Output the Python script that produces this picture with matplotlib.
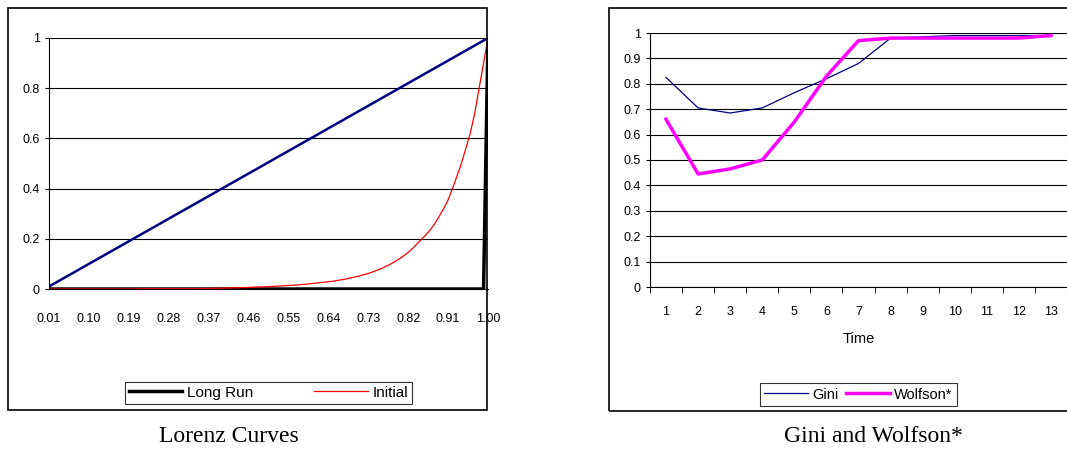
import matplotlib
matplotlib.use('Agg')
import matplotlib.pyplot as plt
from matplotlib.patches import Rectangle

W, H = 1067, 455

# Lorenz data: population share 0.01..1.00
pop = [round(0.01 * i, 2) for i in range(1, 101)]
equality = pop
long_run = [0.0] * 99 + [1.0]
initial = ([0.0] * 20 + [0.001] * 15 +
           [0.002, 0.002, 0.003, 0.003, 0.003, 0.004, 0.004, 0.005, 0.005, 0.006,
            0.006, 0.007, 0.008, 0.008, 0.009, 0.010, 0.011, 0.012, 0.013, 0.014,
            0.015, 0.016, 0.018, 0.019, 0.021, 0.023, 0.025, 0.027, 0.029, 0.031,
            0.034, 0.037, 0.040, 0.044, 0.048, 0.052, 0.057, 0.062, 0.068, 0.075,
            0.082, 0.090, 0.099, 0.109, 0.120, 0.132, 0.146, 0.162, 0.180, 0.198] +
           [0.216, 0.236, 0.260, 0.290, 0.320, 0.355, 0.400, 0.450,
            0.500, 0.560, 0.620, 0.700, 0.800, 0.900, 1.000])
lorenz_ticks = [1, 10, 19, 28, 37, 46, 55, 64, 73, 82, 91, 100]

# Gini / Wolfson data
time = list(range(1, 14))
gini = [0.825, 0.705, 0.685, 0.705, 0.765, 0.82, 0.88, 0.98, 0.985, 0.99, 0.99, 0.99, 0.99]
wolfson = [0.66, 0.445, 0.465, 0.50, 0.65, 0.83, 0.97, 0.98, 0.98, 0.98, 0.98, 0.98, 0.99]

plt.rcParams['font.family'] = ['Liberation Sans', 'DejaVu Sans']
fig = plt.figure(figsize=(W / 100, H / 100), dpi=100)

def px(x0, y0, x1, y1):
    return [x0 / W, 1 - y1 / H, (x1 - x0) / W, (y1 - y0) / H]

# outer frames
for (x0, y0, x1, y1) in [(8, 8, 487, 410), (609, 8, 1075, 411)]:
    fig.patches.append(Rectangle((x0 / W, 1 - y1 / H), (x1 - x0) / W, (y1 - y0) / H,
                                 transform=fig.transFigure, fill=False, ec='black', lw=1.2))

# ---- Left: Lorenz curves
ax = fig.add_axes(px(49, 38, 488, 289))
ax.plot(range(1, 101), equality, color='#000080', lw=1.8)
ax.plot(range(1, 101), long_run, color='black', lw=2.5, label='Long Run')
ax.plot(range(1, 101), initial, color='red', lw=0.9, label='Initial')
ax.set_xlim(1, 100)
ax.set_ylim(0, 1)
ax.set_yticks([0, 0.2, 0.4, 0.6, 0.8, 1])
ax.set_yticklabels(['0', '0.2', '0.4', '0.6', '0.8', '1'])
ax.set_xticks(lorenz_ticks)
ax.set_xticklabels([f'{pop[i - 1]:.2f}' for i in lorenz_ticks])
ax.grid(axis='y', color='black', lw=0.8)
ax.tick_params(labelsize=9, length=3, direction='out')
ax.tick_params(axis='x', length=0, pad=17)
for s in ['top', 'right']:
    ax.spines[s].set_visible(False)
leg = ax.legend(loc='upper center', bbox_to_anchor=(0.5, -0.34), ncol=2, fontsize=11,
                frameon=True, fancybox=False, edgecolor='black', columnspacing=4,
                handlelength=3.5, handletextpad=0.3, borderpad=0.25)
leg.get_frame().set_linewidth(0.8)

# ---- Right: Gini and Wolfson
ax2 = fig.add_axes(px(650, 33, 1067, 287))
ax2.plot(time, gini, color='#000080', lw=0.9, label='Gini')
ax2.plot(time, wolfson, color='magenta', lw=2.5, label='Wolfson*')
ax2.set_xlim(0.5, 13.5)
ax2.set_ylim(0, 1)
ax2.set_yticks([i / 10 for i in range(11)])
ax2.set_yticklabels(['0'] + [f'{i / 10:.1f}' for i in range(1, 10)] + ['1'])
ax2.set_xticks(time)
ax2.set_xticks([t + 0.5 for t in range(0, 14)], minor=True)
ax2.tick_params(labelsize=9, length=3)
ax2.tick_params(axis='x', which='major', length=0, pad=14)
ax2.tick_params(axis='x', which='minor', length=4)
ax2.grid(axis='y', color='black', lw=0.8)
ax2.set_xlabel('Time', fontsize=10.5, labelpad=10)
for s in ['top', 'right']:
    ax2.spines[s].set_visible(False)
leg2 = ax2.legend(loc='upper center', bbox_to_anchor=(0.5, -0.35), ncol=2, fontsize=10.5,
                  frameon=True, fancybox=False, edgecolor='black', columnspacing=0.5,
                  handlelength=3, handletextpad=0.3, borderpad=0.3)
leg2.get_frame().set_linewidth(0.8)

fig.text(229 / W, 1 - 437 / H, 'Lorenz Curves', ha='center', va='center',
         family='Liberation Serif', fontsize=17)
fig.text(873 / W, 1 - 437 / H, 'Gini and Wolfson*', ha='center', va='center',
         family='Liberation Serif', fontsize=17)

fig.savefig('out.png', dpi=100)
